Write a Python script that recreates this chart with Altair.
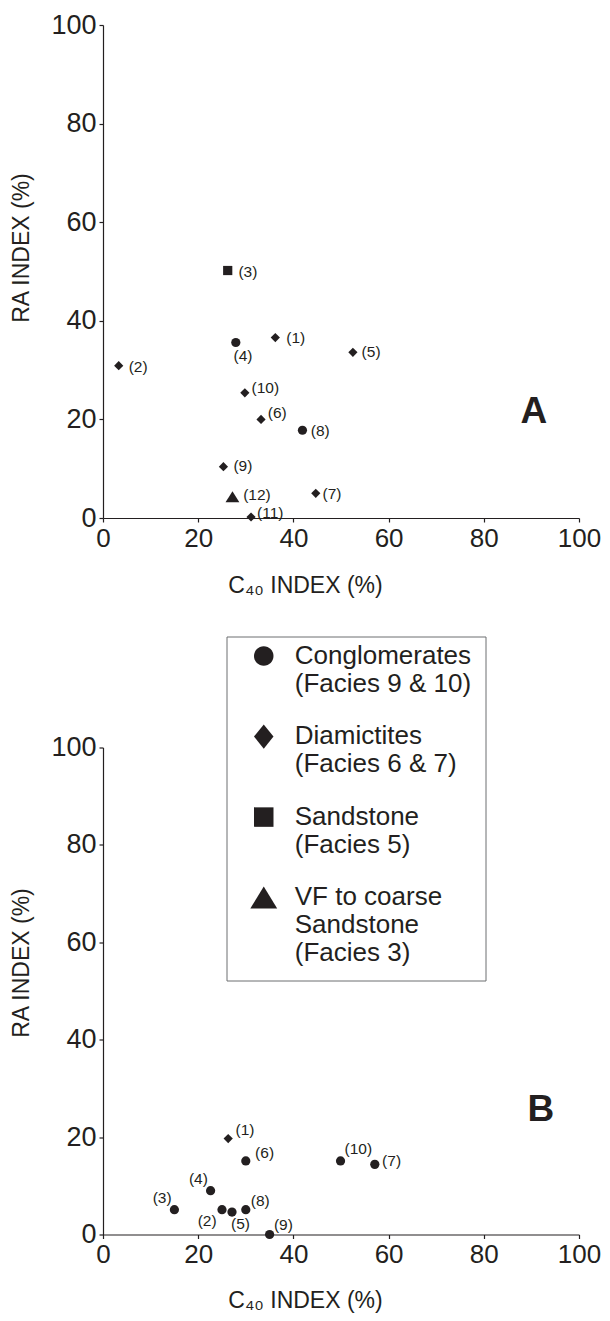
import altair as alt
import pandas as pd

FONT = "Liberation Sans, Arial, Helvetica, sans-serif"
INK = "#231f20"

# ---- categories ----
FACIES = [
    "Conglomerates|(Facies 9 & 10)",
    "Diamictites|(Facies 6 & 7)",
    "Sandstone|(Facies 5)",
    "VF to coarse|Sandstone|(Facies 3)",
]
# plot symbols (triangle drawn as a slightly larger custom path)
SHAPES = ["circle", "diamond", "square", "M0,-1.2L1.5,1.2L-1.5,1.2Z"]
# legend symbols: same shapes, lifted to sit on the first line of each label
LEGEND_SHAPES = [
    "M-1 -0.76 A1 1 0 1 1 1 -0.76 A1 1 0 1 1 -1 -0.76 Z",
    "M-1 -0.76 L0 -2.01 L1 -0.76 L0 0.49 Z",
    "M-1 -1.76 L1 -1.76 L1 0.24 L-1 0.24 Z",
    "M0 -1.89 L1.38 0.37 L-1.38 0.37 Z",
]

TICKS = [0, 20, 40, 60, 80, 100]
X_TITLE = "C\u2084\u2080 INDEX (%)"
Y_TITLE = "RA INDEX (%)"

# ---- panel A data ----
A_ID = ["(1)", "(2)", "(3)", "(4)", "(5)", "(6)", "(7)", "(8)", "(9)", "(10)", "(11)", "(12)"]
A_C40 = [36.2, 3.3, 26.2, 27.9, 52.5, 33.2, 44.7, 41.9, 25.3, 29.8, 31.1, 27.2]
A_RA = [36.6, 30.9, 50.2, 35.6, 33.6, 20.0, 5.0, 17.8, 10.4, 25.4, 0.2, 4.3]
A_TYPE = [1, 1, 2, 0, 1, 1, 1, 0, 1, 1, 1, 3]

# ---- panel B data ----
B_ID = ["(1)", "(2)", "(3)", "(4)", "(5)", "(6)", "(7)", "(8)", "(9)", "(10)"]
B_C40 = [26.3, 25.0, 15.0, 22.6, 27.1, 30.0, 57.1, 30.0, 35.0, 49.9]
B_RA = [19.7, 5.1, 5.1, 9.0, 4.6, 15.1, 14.4, 5.1, 0.0, 15.1]
B_TYPE = [1, 0, 0, 0, 0, 0, 0, 0, 0, 0]

# ---- panel letters ----
LETTERS = ["A", "B"]
LETTER_C40 = [90.5, 92.0]
LETTER_RA = [21.4, 25.5]

# ---- label placement (pixel offsets of each point label) ----
A_LDX = [11, 10, 10.7, -2.3, 8.7, 6.7, 6.7, 8.3, 10, 6.7, 6, 10.7]
A_LDY = [0, 1.7, 1, 14, -0.7, -6, 1, 1, -0.7, -5, -4, -1.7]
B_LDX = [7.3, -24.3, -21.7, -21.7, -1, 9.3, 7.3, 5, 4.3, 4]
B_LDY = [-8.3, 11, -11.7, -11.7, 12.3, -8.3, -3.3, -9, -10, -12.3]

W = 476


def make_axis(title, title_x, title_y, is_y):
    kw = dict(
        title=title, values=TICKS, grid=False,
        domainColor=INK, domainWidth=1.2, tickColor=INK, tickSize=4, tickWidth=1.2,
        labelFont=FONT, labelFontSize=27 if is_y else 26, labelColor=INK, labelPadding=3,
        labelFlush=False, labelOverlap=False,
        titleFont=FONT, titleFontSize=23, titleFontWeight="normal", titleColor=INK,
        titleX=title_x, titleY=title_y, titleAlign="center", titleBaseline="middle",
    )
    if is_y:
        kw["titleAngle"] = 270
    return alt.Axis(**kw)


def make_legend():
    return alt.Legend(
        title=None,
        orient="none", legendX=123.5, legendY=611.5,
        padding=14, strokeColor="#6d6e71", fillColor="white",
        symbolSize=380, symbolFillColor=INK, symbolStrokeColor=INK, symbolStrokeWidth=0,
        symbolOffset=10.25, labelOffset=18, rowPadding=26.5,
        labelFont=FONT, labelFontSize=26, labelColor=INK, labelLimit=400,
        labelBaseline="alphabetic",
        labelExpr="split(datum.label + '\u00a0\u00a0', '|')",
    )


def panel(ids, c40, ra, types, ldx, ldy, k, height, ytitle_y, xtitle_y, with_legend):
    df = pd.DataFrame({
        "id": ids, "c40": c40, "ra": ra,
        "facies": [FACIES[t] for t in types],
    })
    xenc = alt.X("c40:Q", scale=alt.Scale(domain=[0, 100], nice=False),
                 axis=make_axis(X_TITLE, 202, xtitle_y, False))
    yenc = alt.Y("ra:Q", scale=alt.Scale(domain=[0, 100], nice=False),
                 axis=make_axis(Y_TITLE, -82, ytitle_y, True))
    base = alt.Chart(df)
    layers = []
    if with_legend:
        # legend-only layer (draws no marks) with its own symbol scale
        layers.append(
            base.transform_filter("false")
            .mark_point(filled=True, opacity=1, color=INK, strokeWidth=0)
            .encode(x=xenc, y=yenc,
                    shape=alt.Shape("facies:N",
                                    scale=alt.Scale(domain=FACIES, range=LEGEND_SHAPES),
                                    legend=make_legend()))
        )
    layers.append(
        base.mark_point(filled=True, opacity=1, color=INK, size=85, strokeWidth=0).encode(
            x=xenc, y=yenc,
            shape=alt.Shape("facies:N", scale=alt.Scale(domain=FACIES, range=SHAPES), legend=None),
        )
    )
    for i, pid in enumerate(ids):
        layers.append(
            base.transform_filter(alt.datum.id == pid)
            .mark_text(align="left", baseline="middle", font=FONT, fontSize=15.5, color=INK,
                       dx=ldx[i], dy=ldy[i])
            .encode(x=xenc, y=yenc, text="id:N")
        )
    ldf = pd.DataFrame({"t": [LETTERS[k]], "c40": [LETTER_C40[k]], "ra": [LETTER_RA[k]]})
    layers.append(
        alt.Chart(ldf).mark_text(font=FONT, fontSize=37, fontWeight="bold", color=INK,
                                 align="center", baseline="middle")
        .encode(x=xenc, y=yenc, text="t:N")
    )
    return alt.layer(*layers).resolve_scale(shape="independent").properties(width=W, height=height)


a = panel(A_ID, A_C40, A_RA, A_TYPE, A_LDX, A_LDY, 0, 493, 222.5, 67, True)
b = panel(B_ID, B_C40, B_RA, B_TYPE, B_LDX, B_LDY, 1, 487, 215, 66, False)

chart = alt.vconcat(a, b, spacing=229.5, bounds="flush").resolve_scale(
    shape="independent"
).properties(
    padding={"left": 2, "top": 3, "right": 0, "bottom": 0},
    background="white",
).configure_view(stroke=None)

chart.save("out.html", embed_options={"renderer": "svg", "actions": False})
